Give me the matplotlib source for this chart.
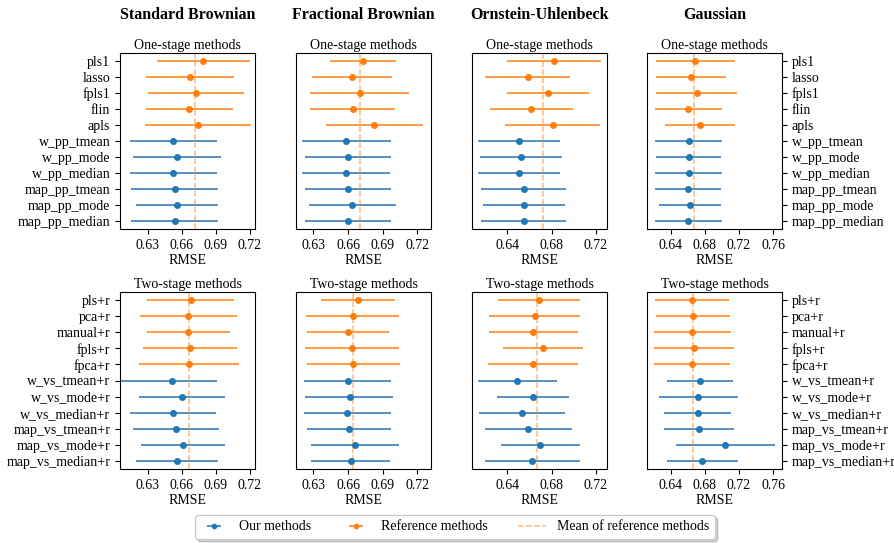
import matplotlib
matplotlib.use("Agg")
import matplotlib.pyplot as plt
from matplotlib.ticker import MultipleLocator, FormatStrFormatter
import numpy as np

plt.rcParams['font.family'] = ['Liberation Serif', 'DejaVu Serif']
plt.rcParams['font.size'] = 10

columns = ["Standard Brownian", "Fractional Brownian", "Ornstein-Uhlenbeck", "Gaussian"]

one_stage_ref = ["pls1", "lasso", "fpls1", "flin", "apls"]
one_stage_ours = ["w_pp_tmean", "w_pp_mode", "w_pp_median",
                  "map_pp_tmean", "map_pp_mode", "map_pp_median"]
two_stage_ref = ["pls+r", "pca+r", "manual+r", "fpls+r", "fpca+r"]
two_stage_ours = ["w_vs_tmean+r", "w_vs_mode+r", "w_vs_median+r",
                  "map_vs_tmean+r", "map_vs_mode+r", "map_vs_median+r"]

# one-stage: point estimate, lower, upper (ref methods first, then ours)
one_mid = [
    [0.679, 0.6675, 0.6724, 0.6669, 0.6741, 0.6527, 0.6558, 0.6527, 0.6538, 0.6558, 0.6538],
    [0.6731, 0.6635, 0.6700, 0.6641, 0.6829, 0.6584, 0.6601, 0.6584, 0.6601, 0.6638, 0.6601],
    [0.6823, 0.6586, 0.6766, 0.6619, 0.6811, 0.6508, 0.6523, 0.6508, 0.6553, 0.6556, 0.6553],
    [0.6689, 0.6643, 0.6709, 0.6606, 0.6743, 0.6613, 0.6613, 0.6613, 0.6606, 0.6624, 0.6606],
]
one_lo = [
    [0.638, 0.6288, 0.6300, 0.6288, 0.6274, 0.6146, 0.6174, 0.6146, 0.6154, 0.6198, 0.6154],
    [0.6446, 0.6292, 0.6275, 0.6275, 0.6412, 0.6204, 0.6232, 0.6204, 0.6232, 0.6260, 0.6232],
    [0.6395, 0.6200, 0.6395, 0.6244, 0.6380, 0.6139, 0.6155, 0.6139, 0.6166, 0.6184, 0.6166],
    [0.6229, 0.6232, 0.6232, 0.6213, 0.6335, 0.6221, 0.6229, 0.6221, 0.6221, 0.6259, 0.6221],
]
one_hi = [
    [0.720, 0.7064, 0.7148, 0.7055, 0.7207, 0.6910, 0.6942, 0.6910, 0.6924, 0.6919, 0.6924],
    [0.7018, 0.6979, 0.7128, 0.7004, 0.7247, 0.6968, 0.6973, 0.6965, 0.6973, 0.7013, 0.6973],
    [0.7249, 0.6970, 0.7137, 0.6997, 0.7240, 0.6874, 0.6892, 0.6874, 0.6934, 0.6922, 0.6934],
    [0.7154, 0.7051, 0.7177, 0.7002, 0.7154, 0.7001, 0.6993, 0.7001, 0.6993, 0.6986, 0.7001],
]

# two-stage
two_mid = [
    [0.6678, 0.6660, 0.6660, 0.6672, 0.6663, 0.6518, 0.6602, 0.6523, 0.6549, 0.6614, 0.6561],
    [0.6689, 0.6641, 0.6598, 0.6638, 0.6647, 0.6596, 0.6615, 0.6593, 0.6607, 0.6663, 0.6624],
    [0.6688, 0.6649, 0.6634, 0.6724, 0.6631, 0.6490, 0.6631, 0.6530, 0.6589, 0.6694, 0.6622],
    [0.6651, 0.6663, 0.6651, 0.6678, 0.6655, 0.6743, 0.6727, 0.6720, 0.6735, 0.7040, 0.6773],
]
two_lo = [
    [0.6294, 0.6230, 0.6294, 0.6259, 0.6222, 0.6044, 0.6222, 0.6148, 0.6169, 0.6244, 0.6195],
    [0.6368, 0.6235, 0.6246, 0.6232, 0.6243, 0.6215, 0.6232, 0.6221, 0.6243, 0.6277, 0.6283],
    [0.6319, 0.6238, 0.6235, 0.6364, 0.6226, 0.6136, 0.6307, 0.6148, 0.6197, 0.6341, 0.6200],
    [0.6213, 0.6229, 0.6201, 0.6209, 0.6209, 0.6354, 0.6270, 0.6323, 0.6323, 0.6461, 0.6354],
]
two_hi = [
    [0.7061, 0.7085, 0.7026, 0.7090, 0.7102, 0.6913, 0.6985, 0.6904, 0.6930, 0.6985, 0.6924],
    [0.7010, 0.7038, 0.6953, 0.7041, 0.7052, 0.6976, 0.6993, 0.6968, 0.6968, 0.7044, 0.6962],
    [0.7060, 0.7060, 0.7042, 0.7083, 0.7039, 0.6850, 0.6958, 0.6919, 0.6982, 0.7054, 0.7054],
    [0.7086, 0.7097, 0.7109, 0.7143, 0.7097, 0.7135, 0.7184, 0.7109, 0.7146, 0.7618, 0.7184],
]

xlims = [(0.6058, 0.7245), (0.615, 0.7318), (0.6083, 0.730), (0.6124, 0.7705)]
xsteps = [0.03, 0.03, 0.04, 0.04]

BLUE = "#1f77b4"
ORANGE = "#ff7f0e"
N_REF = 5

fig = plt.figure(figsize=(8.95, 5.43), dpi=100)

lefts = [120, 296, 472, 647]
W, H = 895.0, 543.0
rows = [(53, 229, "One-stage methods", one_stage_ref + one_stage_ours, one_mid, one_lo, one_hi),
        (292, 469, "Two-stage methods", two_stage_ref + two_stage_ours, two_mid, two_lo, two_hi)]

handles = {}
for r, (top, bot, title, labels, mids, los, his) in enumerate(rows):
    for c in range(4):
        ax = fig.add_axes([lefts[c] / W, 1 - bot / H, 135 / W, (bot - top) / H])
        mid = np.array(mids[c])
        lo = np.array(los[c])
        hi = np.array(his[c])
        y = np.arange(len(labels))
        for i in range(len(labels)):
            col = ORANGE if i < N_REF else BLUE
            eb = ax.errorbar(mid[i], y[i], xerr=[[mid[i] - lo[i]], [hi[i] - mid[i]]],
                             fmt='o', color=col, ms=4, elinewidth=1.1, capsize=0)
            handles.setdefault(col, eb)
        mline = ax.axvline(mid[:N_REF].mean(), color=ORANGE, ls='--', lw=1.1, alpha=0.55)
        handles.setdefault('mean', mline)
        ax.set_ylim(len(labels) - 0.5, -0.5)
        ax.set_yticks(y)
        if c == 0:
            ax.set_yticklabels(labels)
        elif c == 3:
            ax.yaxis.tick_right()
            ax.set_yticklabels(labels)
        else:
            ax.set_yticks([])
        ax.set_xlim(*xlims[c])
        ax.xaxis.set_major_locator(MultipleLocator(xsteps[c]))
        ax.xaxis.set_major_formatter(FormatStrFormatter('%.2f'))
        ax.set_xlabel("RMSE", labelpad=2)
        ax.set_title(title, fontsize=10, pad=3)
        if r == 0:
            fig.text((lefts[c] + 67.5) / W, 1 - 15 / H, columns[c],
                     ha='center', va='center', fontsize=11.5, fontweight='bold')

fig.legend([handles[BLUE], handles[ORANGE], handles['mean']],
           ["Our methods", "Reference methods", "Mean of reference methods"],
           loc='center', bbox_to_anchor=(455 / W, 1 - 527 / H), ncol=3,
           fontsize=10, shadow={'alpha': 0.25}, columnspacing=2.2,
           markerscale=0.75)

fig.savefig("out.png", dpi=100)
